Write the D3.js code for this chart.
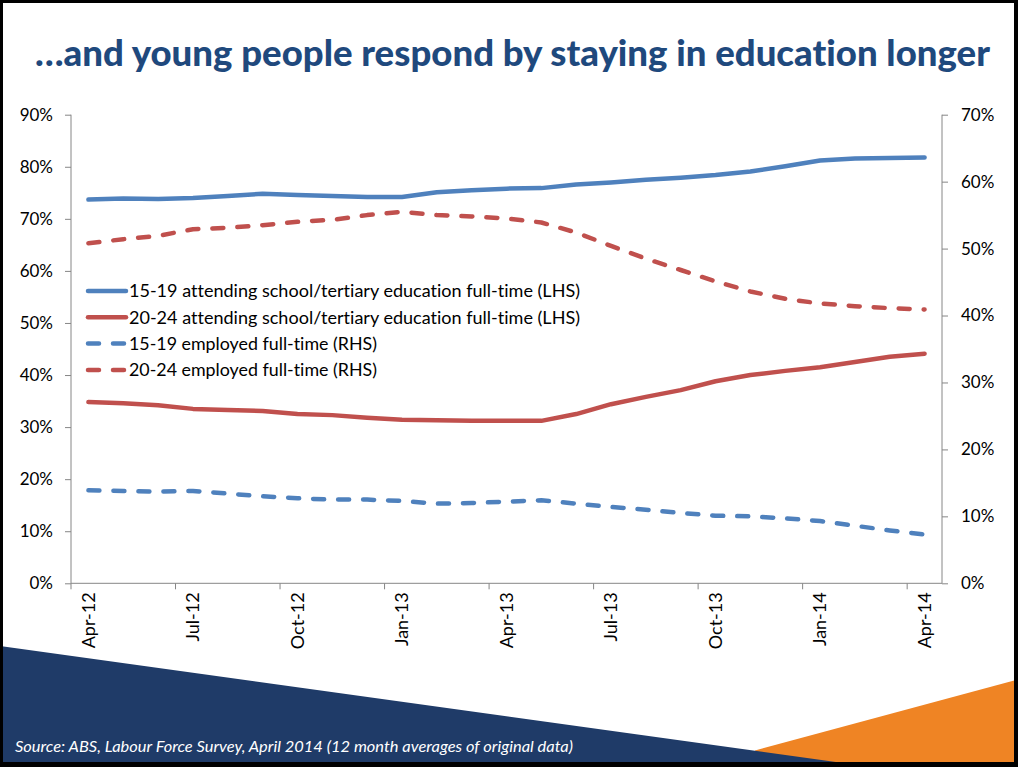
<!DOCTYPE html>
<html>
<head>
<meta charset="utf-8">
<script src="https://cdn.jsdelivr.net/npm/d3@7"></script>
<style>
  html, body { margin: 0; padding: 0; background: #fff; }
  svg { display: block; }
  text { font-family: Lato, "Open Sans", sans-serif; font-variant-ligatures: none; }
</style>
</head>
<body>
<svg id="chart" width="1018" height="767"></svg>
<script>
// Monthly categories (12 month averages), Apr-12 to Apr-14
const months = ["Apr-12","May-12","Jun-12","Jul-12","Aug-12","Sep-12","Oct-12","Nov-12","Dec-12",
                "Jan-13","Feb-13","Mar-13","Apr-13","May-13","Jun-13","Jul-13","Aug-13","Sep-13",
                "Oct-13","Nov-13","Dec-13","Jan-14","Feb-14","Mar-14","Apr-14"];
const tickMonths = ["Apr-12","Jul-12","Oct-12","Jan-13","Apr-13","Jul-13","Oct-13","Jan-14","Apr-14"];

// Left-hand scale (%)
const attend1519 = [73.7, 73.9, 73.8, 74.0, 74.4, 74.8, 74.6, 74.4, 74.2, 74.2, 75.1, 75.5, 75.8,
                    75.9, 76.6, 77.0, 77.5, 77.9, 78.4, 79.1, 80.1, 81.2, 81.6, 81.7, 81.8];
const attend2024 = [34.8, 34.6, 34.2, 33.5, 33.3, 33.1, 32.5, 32.3, 31.8, 31.4, 31.3, 31.2, 31.2,
                    31.2, 32.5, 34.4, 35.8, 37.1, 38.8, 40.0, 40.8, 41.5, 42.5, 43.5, 44.1];
// Right-hand scale (%)
const employed1519 = [13.9, 13.8, 13.7, 13.8, 13.4, 13.0, 12.7, 12.5, 12.5, 12.3, 11.9, 12.0, 12.2,
                      12.4, 11.9, 11.4, 11.0, 10.5, 10.1, 10.0, 9.7, 9.3, 8.6, 7.9, 7.3];
const employed2024 = [50.8, 51.4, 51.9, 52.9, 53.1, 53.5, 54.0, 54.3, 55.0, 55.5, 55.0, 54.8, 54.5,
                      53.9, 52.4, 50.4, 48.5, 46.8, 45.1, 43.6, 42.5, 41.8, 41.4, 41.1, 40.9];

const leftTicks = [0, 10, 20, 30, 40, 50, 60, 70, 80, 90];
const rightTicks = [0, 10, 20, 30, 40, 50, 60, 70];

const legendLabels = [
  "15-19 attending school/tertiary education full-time (LHS)",
  "20-24 attending school/tertiary education full-time (LHS)",
  "15-19 employed full-time (RHS)",
  "20-24 employed full-time (RHS)"
];

const titleText = "\u2026and young people respond by staying in education longer";
const sourceText = "Source: ABS, Labour Force Survey, April 2014 (12 month averages of original data)";

const BLUE = "#4F81BD", RED = "#C0504D";
const series = [
  { name: legendLabels[0], values: attend1519, axis: "L", color: BLUE, dash: null },
  { name: legendLabels[1], values: attend2024, axis: "L", color: RED, dash: null },
  { name: legendLabels[2], values: employed1519, axis: "R", color: BLUE, dash: "11,14" },
  { name: legendLabels[3], values: employed2024, axis: "R", color: RED, dash: "11,14" }
];

const svg = d3.select("#chart");
const W = 1018, H = 767;

svg.append("rect").attr("width", W).attr("height", H).attr("fill", "#fff");

// Title
svg.append("text")
  .attr("x", 35).attr("y", 66)
  .attr("font-size", 36).attr("font-weight", 900)
  .attr("fill", "#1F497D")
  .attr("textLength", 955).attr("lengthAdjust", "spacingAndGlyphs")
  .text(titleText);

// Plot area
const plot = { left: 71, right: 942, top: 114.7, bottom: 583.3 };

const x = d3.scaleBand().domain(months).range([plot.left, plot.right]).paddingInner(0).paddingOuter(0);
const bw = x.bandwidth();
const yL = d3.scaleLinear().domain([0, 90]).range([plot.bottom, plot.top]);
const yR = d3.scaleLinear().domain([0, 70]).range([plot.bottom, plot.top]);

const AXIS = "#868686";
const fmt = d => d + "%";

// Left axis
const gL = svg.append("g").attr("transform", `translate(${plot.left},0)`)
  .call(d3.axisLeft(yL).tickValues(leftTicks).tickFormat(fmt).tickSize(6).tickPadding(12));
// Right axis
const gR = svg.append("g").attr("transform", `translate(${plot.right},0)`)
  .call(d3.axisRight(yR).tickValues(rightTicks).tickFormat(fmt).tickSize(6).tickPadding(13));
[gL, gR].forEach(g => {
  g.select(".domain").attr("stroke", AXIS).attr("d", null);
  g.selectAll(".tick line").attr("stroke", AXIS);
  g.selectAll(".tick text").attr("font-size", 17).attr("fill", "#000")
    .attr("font-family", "Lato, 'Open Sans', sans-serif");
});
gL.append("line").attr("x1", 0).attr("x2", 0).attr("y1", plot.top).attr("y2", plot.bottom).attr("stroke", AXIS);
gR.append("line").attr("x1", 0).attr("x2", 0).attr("y1", plot.top).attr("y2", plot.bottom).attr("stroke", AXIS);

// Bottom axis: tick marks sit on category boundaries, labels at category centres
const gX = svg.append("g").attr("transform", `translate(0,${plot.bottom})`)
  .call(d3.axisBottom(x).tickValues(tickMonths).tickSize(6).tickPadding(9));
gX.select(".domain").attr("d", null);
gX.append("line").attr("x1", plot.left).attr("x2", plot.right).attr("y1", 0).attr("y2", 0).attr("stroke", AXIS);
gX.selectAll(".tick line").attr("stroke", AXIS).attr("transform", `translate(${-bw / 2},0)`);
gX.selectAll(".tick text")
  .attr("font-size", 18).attr("fill", "#000")
  .attr("font-family", "Lato, 'Open Sans', sans-serif")
  .attr("text-anchor", "end")
  .attr("transform", "rotate(-90)")
  .attr("x", -9).attr("y", 0).attr("dy", "0.35em");

// Series lines
const cx = i => x(months[i]) + bw / 2;
series.forEach(s => {
  const y = s.axis === "L" ? yL : yR;
  const line = d3.line().x((d, i) => cx(i)).y(d => y(d));
  svg.append("path")
    .datum(s.values)
    .attr("d", line)
    .attr("fill", "none")
    .attr("stroke", s.color)
    .attr("stroke-width", 4.5)
    .attr("stroke-linejoin", "round")
    .attr("stroke-linecap", "round")
    .attr("stroke-dasharray", s.dash);
});

// Legend
const legend = svg.append("g").attr("transform", "translate(88,291)");
const legendWidths = [451, 451, 248, 248];
series.forEach((s, i) => {
  const row = legend.append("g").attr("transform", `translate(0,${i * 26.3})`);
  row.append("line").attr("x1", 0).attr("x2", 38).attr("y1", 0).attr("y2", 0)
    .attr("stroke", s.color).attr("stroke-width", 4.5)
    .attr("stroke-linecap", "round").attr("stroke-dasharray", s.dash);
  row.append("text").attr("x", 41).attr("y", 0).attr("dy", "0.36em")
    .attr("font-size", 17.5).attr("fill", "#000")
    .attr("textLength", legendWidths[i]).attr("lengthAdjust", "spacingAndGlyphs")
    .text(s.name);
});

// Footer decoration
svg.append("polygon")
  .attr("points", [[755, 750.5], [1016, 680], [1016, 763], [755, 763]].join(" "))
  .attr("fill", "#EF8424");
svg.append("polygon")
  .attr("points", [[0, 646], [843, 763], [0, 763]].join(" "))
  .attr("fill", "#1F3B68");

svg.append("text")
  .attr("x", 15).attr("y", 752)
  .attr("font-size", 15).attr("font-style", "italic")
  .attr("fill", "#fff")
  .attr("textLength", 558).attr("lengthAdjust", "spacingAndGlyphs")
  .text(sourceText);

// Slide frame
const frame = svg.append("g").attr("fill", "#000");
frame.append("rect").attr("x", 0).attr("y", 0).attr("width", 3).attr("height", H);
frame.append("rect").attr("x", 0).attr("y", 0).attr("width", W).attr("height", 3);
frame.append("rect").attr("x", W - 4).attr("y", 0).attr("width", 4).attr("height", H);
frame.append("rect").attr("x", 0).attr("y", 762).attr("width", W).attr("height", 5);
</script>
</body>
</html>
